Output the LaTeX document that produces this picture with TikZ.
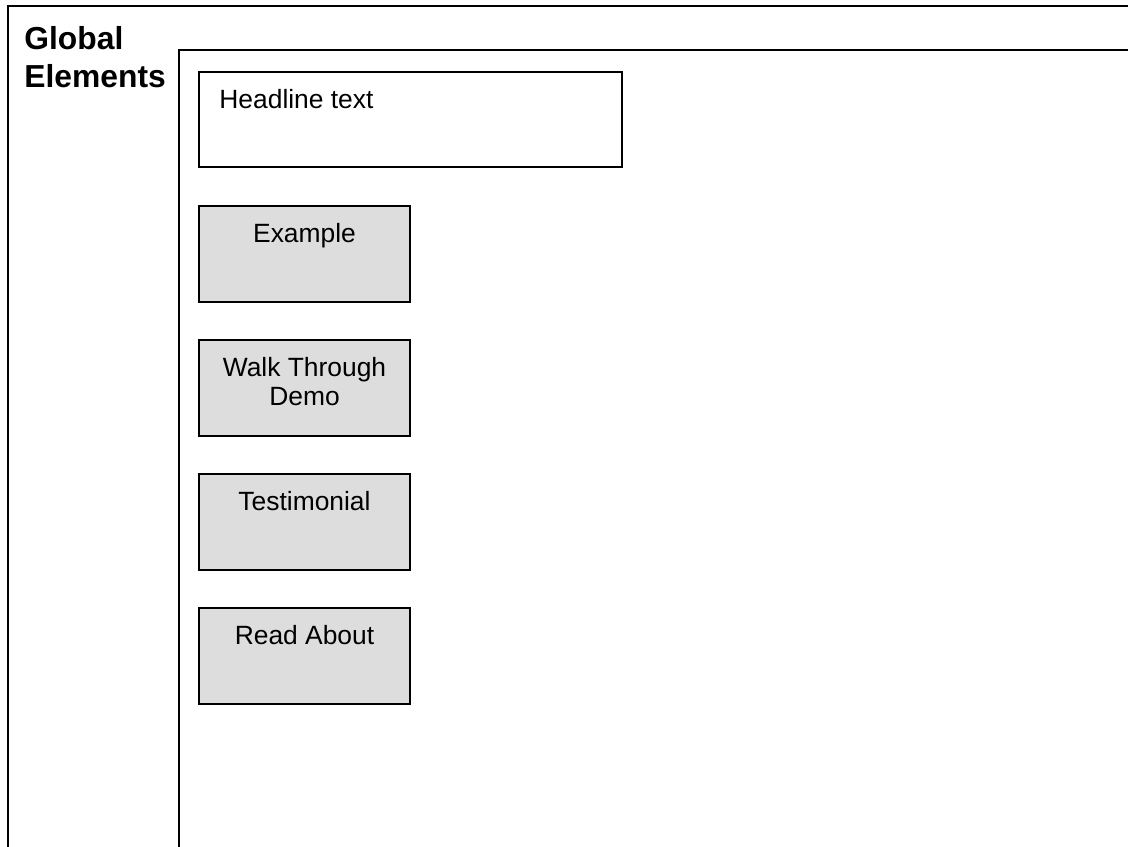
\documentclass[tikz,border=0pt]{standalone}
\usepackage{fontspec}
\setmainfont{Liberation Sans}
\usetikzlibrary{positioning,calc}
\definecolor{wink}{HTML}{000000}
\definecolor{wgray}{HTML}{DDDDDD}
\tikzset{
  frame/.style={draw=wink,line width=1pt},
  headbox/.style={draw=wink,fill=white,line width=1pt,minimum width=211.5pt,minimum height=47.5pt,anchor=north west,inner sep=0pt},
  gbox/.style={draw=wink,fill=wgray,line width=1pt,minimum width=105.5pt,minimum height=48pt,anchor=north west,inner sep=0pt},
  txt/.style={font=\fontsize{13.2pt}{14.5pt}\selectfont,align=center,inner sep=0pt,text=wink},
  ttl/.style={font=\bfseries\fontsize{15.9pt}{19.25pt}\selectfont,align=left,inner sep=0pt,text=wink},
}
\begin{document}
\begin{tikzpicture}[x=0.5pt,y=-0.5pt]
  \clip (0,0) rectangle (1128,846);
  % page frames, cut by the page edge
  \draw[frame] (8,860) |- (1140,6);
  \draw[frame] (179,860) |- (1140,50);
  \node[ttl,anchor=north west] (title) at (24,26) {Global\\Elements};
  % headline
  \node[headbox] (head) at (198,71) {};
  \node[txt,anchor=north west] (headt) at ($(head.north west)+(21,17.5)$) {Headline text};
  % grey blocks
  \foreach \t [count=\ix] in {Example,{Walk Through\\Demo},Testimonial,Read About} {
    \node[gbox] (b\ix) at (198,71+134*\ix) {};
    \node[txt,below=8.75pt of b\ix.north] (t\ix) {\t};
  }
\end{tikzpicture}
\end{document}
